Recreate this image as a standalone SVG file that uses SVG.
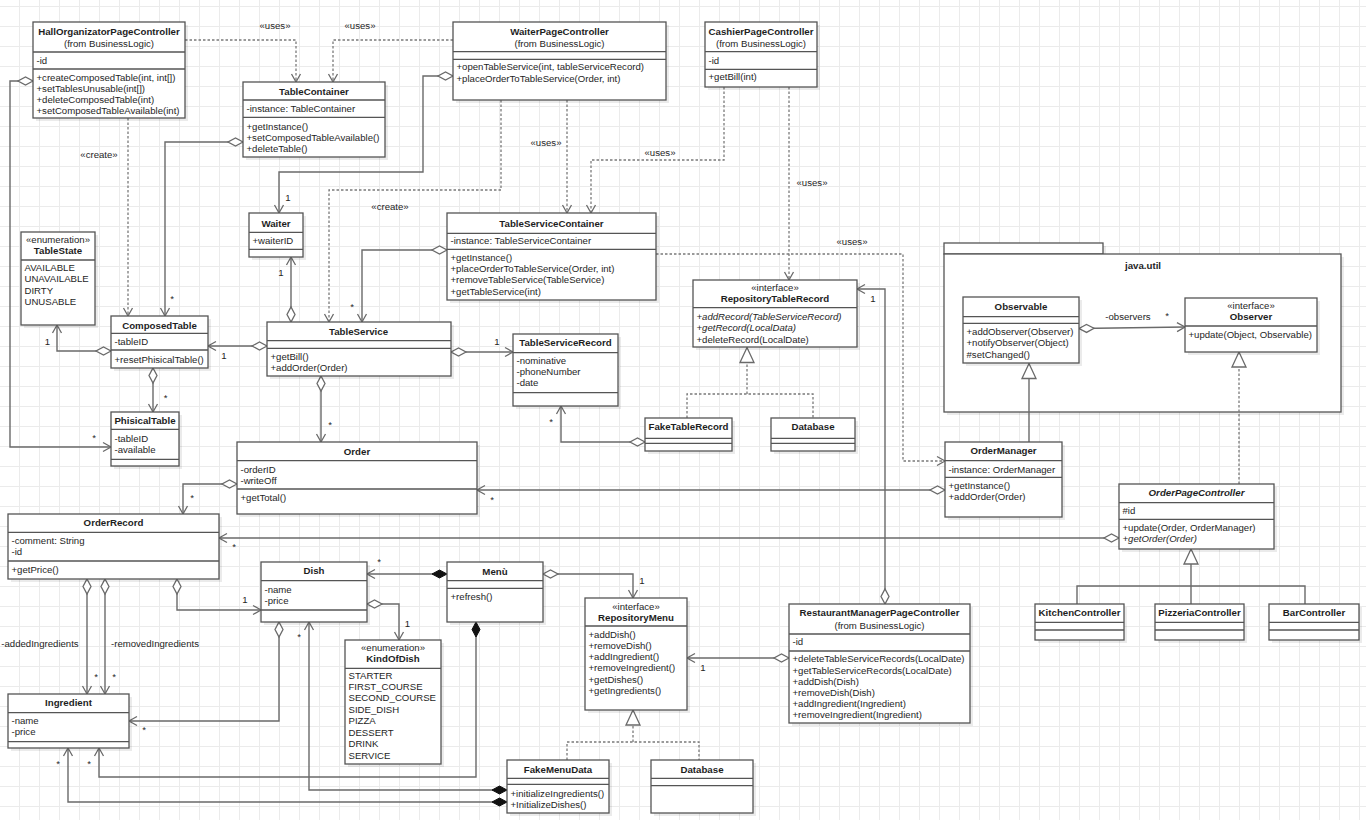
<svg xmlns="http://www.w3.org/2000/svg" width="1366" height="820" viewBox="0 0 1366 820">
<defs>
<style>
.bx{fill:#fff;stroke:#555;stroke-width:1.3}
.sh{fill:#000;fill-opacity:.08}
.sp{stroke:#555;stroke-width:1.3}
text{font-family:"Liberation Sans",Arial,sans-serif;font-size:9.6px;fill:#1e1e1e}
.b{font-weight:bold;font-size:9.7px}
.c{text-anchor:middle}
.i{font-style:italic}
.ln{fill:none;stroke:#6a6a6a;stroke-width:1.4}
.ds{fill:none;stroke:#7a7a7a;stroke-width:1.3;stroke-dasharray:2.5 2}
.ar{marker-end:url(#ar)}
.dm{marker-start:url(#dm)}
.fd{marker-start:url(#fd)}
.tr{marker-end:url(#tr)}
</style>
<pattern id="grid" width="20" height="20" patternUnits="userSpaceOnUse"><path d="M19.5,0 V20 M0,6.5 H20" stroke="#ebebeb" stroke-width="1" fill="none"/></pattern>
<marker id="ar" markerUnits="userSpaceOnUse" markerWidth="12" markerHeight="12" viewBox="-10 -6 12 12" refX="0" refY="0" orient="auto" overflow="visible"><path d="M-8,-4.5 L0,0 L-8,4.5" fill="none" stroke="#6a6a6a" stroke-width="1.3"/></marker>
<marker id="dm" markerUnits="userSpaceOnUse" markerWidth="17" markerHeight="10" viewBox="-1 -5 17 10" refX="0" refY="0" orient="auto" overflow="visible"><path d="M0,0 L7.5,-4 L15,0 L7.5,4 z" fill="#fff" stroke="#6a6a6a" stroke-width="1.3"/></marker>
<marker id="fd" markerUnits="userSpaceOnUse" markerWidth="17" markerHeight="10" viewBox="-1 -5 17 10" refX="0" refY="0" orient="auto" overflow="visible"><path d="M0,0 L7.5,-4 L15,0 L7.5,4 z" fill="#111" stroke="#111" stroke-width="1"/></marker>
<marker id="tr" markerUnits="userSpaceOnUse" markerWidth="17" markerHeight="16" viewBox="-16 -8 17 16" refX="0" refY="0" orient="auto" overflow="visible"><path d="M-15,-7 L0,0 L-15,7 z" fill="#fff" stroke="#6a6a6a" stroke-width="1.3"/></marker>
</defs>
<rect width="1366" height="820" fill="#fff"/>
<rect width="1366" height="820" fill="url(#grid)"/>

<g id="java.util">
<rect class="sh" x="947" y="246" width="159" height="11"/>
<rect class="sh" x="947" y="257" width="397" height="158"/>
<rect class="bx" x="944" y="243" width="159" height="11"/>
<rect class="bx" x="944" y="254" width="397" height="158"/>
<text class="b c" x="1143" y="268.5">java.util</text>
</g>

<g id="connectors">
<path class="ds ar" d="M185,40 H296 V82"/>
<path class="ds ar" d="M453,40 H333 V82"/>
<path class="ds ar" d="M128,118 V316"/>
<path class="ln dm ar" d="M33,81 H10 V447 H111"/>
<path class="ln dm ar" d="M243,142 H165 V316"/>
<path class="ln dm ar" d="M453,76 H423 V172 H279 V213"/>
<path class="ln dm ar" d="M291,322 V257"/>
<path class="ds ar" d="M501,100 V190 H329 V322"/>
<path class="ds ar" d="M567,100 V213"/>
<path class="ds ar" d="M724,87 V160 H591 V213"/>
<path class="ds ar" d="M789,87 V280"/>
<path class="ds ar" d="M656,254 H903 V461 H945"/>
<path class="ln dm ar" d="M447,250 H362 V322"/>
<path class="ln dm ar" d="M267,346 H208"/>
<path class="ln dm ar" d="M111,351 H57 V325"/>
<path class="ln dm ar" d="M153,368 V412"/>
<path class="ln dm ar" d="M451,352 H513"/>
<path class="ln dm ar" d="M321,376 V442"/>
<path class="ln dm ar" d="M645,442 H561 V406"/>
<path class="ds" d="M687,418 V394 H813 V418"/>
<path class="ds tr" d="M747,394 V347.5"/>
<path class="ln dm ar" d="M885,604 V289 H857"/>
<path class="ln dm ar" d="M1079,328.5 L1185,327"/>
<path class="ln tr" d="M1029,442 V363.5"/>
<path class="ds tr" d="M1239,484 V352"/>
<path class="ln dm ar" d="M945,490 H477"/>
<path class="ln dm ar" d="M1119,538 H219"/>
<path class="ln dm ar" d="M237,484 H183 V514"/>
<path class="ln dm ar" d="M87,579 V694"/>
<path class="ln dm ar" d="M105,579 V694"/>
<path class="ln dm ar" d="M177,579 V610 H261"/>
<path class="ln dm ar" d="M279,622 V721 H129"/>
<path class="ln dm ar" d="M367,604 H399 V640"/>
<path class="ln fd ar" d="M447,574 H367"/>
<path class="ln dm ar" d="M543,574 H633 V598"/>
<path class="ln fd ar" d="M476,622 V777 H99 V748"/>
<path class="ln fd ar" d="M507,790 H309 V622"/>
<path class="ln fd ar" d="M507,802 H68 V748"/>
<path class="ds" d="M567,760 V742 H699 V760"/>
<path class="ds tr" d="M633,742 V710"/>
<path class="ln dm ar" d="M789,658 H687"/>
<path class="ln" d="M1077,604 V586 H1305 V604"/>
<path class="ln tr" d="M1191,604 V549"/>
<text class="c" x="275" y="28.5">«uses»</text>
<text class="c" x="360" y="28.5">«uses»</text>
<text class="c" x="546" y="145.5">«uses»</text>
<text class="c" x="660" y="156">«uses»</text>
<text class="c" x="812" y="186">«uses»</text>
<text class="c" x="852" y="244.5">«uses»</text>
<text class="c" x="99" y="157.5">«create»</text>
<text class="c" x="390" y="209.5">«create»</text>
<text class="c" x="94" y="441">*</text>
<text class="c" x="172" y="302">*</text>
<text class="c" x="288" y="200.5">1</text>
<text class="c" x="281" y="275.5">1</text>
<text class="c" x="352" y="310">*</text>
<text class="c" x="224" y="358.5">1</text>
<text class="c" x="47.5" y="344.5">1</text>
<text class="c" x="165.5" y="401">*</text>
<text class="c" x="497" y="344.5">1</text>
<text class="c" x="330" y="428">*</text>
<text class="c" x="551" y="425">*</text>
<text class="c" x="873" y="301.5">1</text>
<text class="c" x="1128" y="319.5">-observers</text>
<text class="c" x="1167" y="319">*</text>
<text class="c" x="492" y="503">*</text>
<text class="c" x="234" y="550">*</text>
<text class="c" x="192" y="501">*</text>
<text class="c" x="40" y="647">-addedIngredients</text>
<text class="c" x="96" y="680">*</text>
<text class="c" x="155" y="647">-removedIngredients</text>
<text class="c" x="114" y="680">*</text>
<text class="c" x="245" y="603">1</text>
<text class="c" x="144" y="733">*</text>
<text class="c" x="407.5" y="626.5">1</text>
<text class="c" x="379" y="565">*</text>
<text class="c" x="642" y="583.5">1</text>
<text class="c" x="89" y="767">*</text>
<text class="c" x="299" y="640">*</text>
<text class="c" x="58" y="767">*</text>
<text class="c" x="703" y="670.5">1</text>
</g>

<g id="HallOrganizatorPageController">
<rect class="sh" x="36" y="25" width="152" height="96"/>
<rect class="bx" x="33" y="22" width="152" height="96"/>
<path class="sp" d="M33,52 H185 M33,69 H185"/>
<text class="b c" x="109" y="34.5">HallOrganizatorPageController</text>
<text class="c" x="109" y="46.5">(from BusinessLogic)</text>
<text x="36.5" y="63.5">-id</text>
<text x="36.5" y="80.8">+createComposedTable(int, int[])</text>
<text x="36.5" y="91.8">+setTablesUnusable(int[])</text>
<text x="36.5" y="102.8">+deleteComposedTable(int)</text>
<text x="36.5" y="114.2">+setComposedTableAvailable(int)</text>
</g>

<g id="TableContainer">
<rect class="sh" x="246" y="85" width="142" height="75"/>
<rect class="bx" x="243" y="82" width="142" height="75"/>
<path class="sp" d="M243,100 H385 M243,117.3 H385"/>
<text class="b c" x="314" y="94.5">TableContainer</text>
<text x="246.5" y="111.5">-instance: TableContainer</text>
<text x="246.5" y="130.2">+getInstance()</text>
<text x="246.5" y="141.2">+setComposedTableAvailable()</text>
<text x="246.5" y="151.8">+deleteTable()</text>
</g>

<g id="WaiterPageController">
<rect class="sh" x="456" y="25" width="213" height="78"/>
<rect class="bx" x="453" y="22" width="213" height="78"/>
<path class="sp" d="M453,51.7 H666 M453,59.3 H666"/>
<text class="b c" x="559.5" y="34.5">WaiterPageController</text>
<text class="c" x="559.5" y="46.5">(from BusinessLogic)</text>
<text x="456.5" y="70.2">+openTableService(int, tableServiceRecord)</text>
<text x="456.5" y="81.8">+placeOrderToTableService(Order, int)</text>
</g>

<g id="CashierPageController">
<rect class="sh" x="708" y="25" width="112" height="65"/>
<rect class="bx" x="705" y="22" width="112" height="65"/>
<path class="sp" d="M705,51.7 H817 M705,69.3 H817"/>
<text class="b c" x="761" y="34.5">CashierPageController</text>
<text class="c" x="761" y="46.5">(from BusinessLogic)</text>
<text x="708.5" y="63.5">-id</text>
<text x="708.5" y="80.2">+getBill(int)</text>
</g>

<g id="Waiter">
<rect class="sh" x="252" y="216" width="54" height="44"/>
<rect class="bx" x="249" y="213" width="54" height="44"/>
<path class="sp" d="M249,232.3 H303 M249,249.3 H303"/>
<text class="b c" x="276" y="226.5">Waiter</text>
<text x="252.5" y="243.5">+waiterID</text>
</g>

<g id="TableState">
<rect class="sh" x="24" y="235" width="74" height="93"/>
<rect class="bx" x="21" y="232" width="74" height="93"/>
<path class="sp" d="M21,260 H95"/>
<text class="c" x="58" y="242.8">«enumeration»</text>
<text class="b c" x="58" y="253.5">TableState</text>
<text x="24.5" y="271">AVAILABLE</text>
<text x="24.5" y="282.3">UNAVAILABLE</text>
<text x="24.5" y="293.6">DIRTY</text>
<text x="24.5" y="304.9">UNUSABLE</text>
</g>

<g id="ComposedTable">
<rect class="sh" x="114" y="319" width="97" height="52"/>
<rect class="bx" x="111" y="316" width="97" height="52"/>
<path class="sp" d="M111,333.3 H208 M111,350 H208"/>
<text class="b c" x="159.5" y="328.5">ComposedTable</text>
<text x="114.5" y="345">-tableID</text>
<text x="114.5" y="362.7">+resetPhisicalTable()</text>
</g>

<g id="PhisicalTable">
<rect class="sh" x="114" y="415" width="68" height="54"/>
<rect class="bx" x="111" y="412" width="68" height="54"/>
<path class="sp" d="M111,429.3 H179 M111,459.3 H179"/>
<text class="b c" x="145" y="424">PhisicalTable</text>
<text x="114.5" y="441.8">-tableID</text>
<text x="114.5" y="453.3">-available</text>
</g>

<g id="TableService">
<rect class="sh" x="270" y="325" width="184" height="54"/>
<rect class="bx" x="267" y="322" width="184" height="54"/>
<path class="sp" d="M267,340.7 H451 M267,348.3 H451"/>
<text class="b c" x="358.5" y="334.5">TableService</text>
<text x="270.5" y="359.5">+getBill()</text>
<text x="270.5" y="370.5">+addOrder(Order)</text>
</g>

<g id="TableServiceContainer">
<rect class="sh" x="450" y="216" width="209" height="87"/>
<rect class="bx" x="447" y="213" width="209" height="87"/>
<path class="sp" d="M447,233.3 H656 M447,249.3 H656"/>
<text class="b c" x="551.5" y="226.5">TableServiceContainer</text>
<text x="450.5" y="243.5">-instance: TableServiceContainer</text>
<text x="450.5" y="260.8">+getInstance()</text>
<text x="450.5" y="272">+placeOrderToTableService(Order, int)</text>
<text x="450.5" y="283.4">+removeTableService(TableService)</text>
<text x="450.5" y="294.8">+getTableService(int)</text>
</g>

<g id="TableServiceRecord">
<rect class="sh" x="516" y="337" width="105" height="72"/>
<rect class="bx" x="513" y="334" width="105" height="72"/>
<path class="sp" d="M513,352.7 H618 M513,392.7 H618"/>
<text class="b c" x="565.5" y="346.3">TableServiceRecord</text>
<text x="516.5" y="364.2">-nominative</text>
<text x="516.5" y="375.2">-phoneNumber</text>
<text x="516.5" y="386.2">-date</text>
</g>

<g id="RepositoryTableRecord">
<rect class="sh" x="696" y="283" width="164" height="67"/>
<rect class="bx" x="693" y="280" width="164" height="67"/>
<path class="sp" d="M693,307.7 H857"/>
<text class="c" x="775" y="290.8">«interface»</text>
<text class="b c" x="775" y="302.2">RepositoryTableRecord</text>
<text class="i" x="696.5" y="319.5">+addRecord(TableServiceRecord)</text>
<text class="i" x="696.5" y="331.2">+getRecord(LocalData)</text>
<text x="696.5" y="342.5">+deleteRecord(LocalDate)</text>
</g>

<g id="FakeTableRecord">
<rect class="sh" x="648" y="421" width="87" height="33"/>
<rect class="bx" x="645" y="418" width="87" height="33"/>
<path class="sp" d="M645,438.3 H732 M645,443.3 H732"/>
<text class="b c" x="688.5" y="430.3">FakeTableRecord</text>
</g>

<g id="DatabaseTableRecord">
<rect class="sh" x="774" y="421" width="84" height="33"/>
<rect class="bx" x="771" y="418" width="84" height="33"/>
<path class="sp" d="M771,438.3 H855 M771,443.3 H855"/>
<text class="b c" x="813" y="430.3">Database</text>
</g>

<g id="Observable">
<rect class="sh" x="966" y="300" width="116" height="66"/>
<rect class="bx" x="963" y="297" width="116" height="66"/>
<path class="sp" d="M963,316.7 H1079 M963,323.3 H1079"/>
<text class="b c" x="1021" y="310.2">Observable</text>
<text x="966.5" y="335.2">+addObserver(Observer)</text>
<text x="966.5" y="346.2">+notifyObserver(Object)</text>
<text x="966.5" y="357.5">#setChanged()</text>
</g>

<g id="Observer">
<rect class="sh" x="1188" y="301" width="132" height="54"/>
<rect class="bx" x="1185" y="298" width="132" height="54"/>
<path class="sp" d="M1185,326 H1317"/>
<text class="c" x="1251" y="308.5">«interface»</text>
<text class="b c" x="1251" y="320.2">Observer</text>
<text x="1188.5" y="337.5">+update(Object, Observable)</text>
</g>

<g id="OrderManager">
<rect class="sh" x="948" y="445" width="117" height="75"/>
<rect class="bx" x="945" y="442" width="117" height="75"/>
<path class="sp" d="M945,460.7 H1062 M945,477.3 H1062"/>
<text class="b c" x="1003.5" y="454.3">OrderManager</text>
<text x="948.5" y="472.5">-instance: OrderManager</text>
<text x="948.5" y="489.2">+getInstance()</text>
<text x="948.5" y="500">+addOrder(Order)</text>
</g>

<g id="OrderPageController">
<rect class="sh" x="1122" y="487" width="155" height="65"/>
<rect class="bx" x="1119" y="484" width="155" height="65"/>
<path class="sp" d="M1119,502.7 H1274 M1119,519.3 H1274"/>
<text class="b c i" x="1196.5" y="496.2">OrderPageController</text>
<text x="1122.5" y="514.2">#id</text>
<text x="1122.5" y="530.8">+update(Order, OrderManager)</text>
<text class="i" x="1122.5" y="541.8">+getOrder(Order)</text>
</g>

<g id="KitchenController">
<rect class="sh" x="1038" y="607" width="89" height="36"/>
<rect class="bx" x="1035" y="604" width="89" height="36"/>
<path class="sp" d="M1035,622.3 H1124 M1035,630 H1124"/>
<text class="b c" x="1079.5" y="616">KitchenController</text>
</g>

<g id="PizzeriaController">
<rect class="sh" x="1158" y="607" width="89" height="36"/>
<rect class="bx" x="1155" y="604" width="89" height="36"/>
<path class="sp" d="M1155,622.3 H1244 M1155,630 H1244"/>
<text class="b c" x="1199.5" y="616">PizzeriaController</text>
</g>

<g id="BarController">
<rect class="sh" x="1272" y="607" width="90" height="36"/>
<rect class="bx" x="1269" y="604" width="90" height="36"/>
<path class="sp" d="M1269,622.3 H1359 M1269,630 H1359"/>
<text class="b c" x="1314" y="616">BarController</text>
</g>

<g id="Order">
<rect class="sh" x="240" y="445" width="240" height="72"/>
<rect class="bx" x="237" y="442" width="240" height="72"/>
<path class="sp" d="M237,460.7 H477 M237,489 H477"/>
<text class="b c" x="357" y="454.5">Order</text>
<text x="240.5" y="472.5">-orderID</text>
<text x="240.5" y="483.5">-writeOff</text>
<text x="240.5" y="500.8">+getTotal()</text>
</g>

<g id="OrderRecord">
<rect class="sh" x="11" y="517" width="211" height="65"/>
<rect class="bx" x="8" y="514" width="211" height="65"/>
<path class="sp" d="M8,532.3 H219 M8,561 H219"/>
<text class="b c" x="113.5" y="526">OrderRecord</text>
<text x="11.5" y="544.2">-comment: String</text>
<text x="11.5" y="555.2">-id</text>
<text x="11.5" y="572.5">+getPrice()</text>
</g>

<g id="Dish">
<rect class="sh" x="264" y="565" width="106" height="60"/>
<rect class="bx" x="261" y="562" width="106" height="60"/>
<path class="sp" d="M261,580.7 H367 M261,610 H367"/>
<text class="b c" x="314" y="574.3">Dish</text>
<text x="264.5" y="592.5">-name</text>
<text x="264.5" y="603.5">-price</text>
</g>

<g id="Ingredient">
<rect class="sh" x="11" y="697" width="121" height="54"/>
<rect class="bx" x="8" y="694" width="121" height="54"/>
<path class="sp" d="M8,712.7 H129 M8,741.7 H129"/>
<text class="b c" x="68.5" y="706.3">Ingredient</text>
<text x="11.5" y="724.2">-name</text>
<text x="11.5" y="735.2">-price</text>
</g>

<g id="Menu">
<rect class="sh" x="450" y="565" width="96" height="60"/>
<rect class="bx" x="447" y="562" width="96" height="60"/>
<path class="sp" d="M447,580.7 H543 M447,588.3 H543"/>
<text class="b c" x="495" y="575">Menù</text>
<text x="450.5" y="600.2">+refresh()</text>
</g>

<g id="KindOfDish">
<rect class="sh" x="348" y="643" width="96" height="124"/>
<rect class="bx" x="345" y="640" width="96" height="124"/>
<path class="sp" d="M345,668.3 H441"/>
<text class="c" x="393" y="650.8">«enumeration»</text>
<text class="b c" x="393" y="662.2">KindOfDish</text>
<text x="348.5" y="678.5">STARTER</text>
<text x="348.5" y="689.9">FIRST_COURSE</text>
<text x="348.5" y="701.4">SECOND_COURSE</text>
<text x="348.5" y="712.8">SIDE_DISH</text>
<text x="348.5" y="724.2">PIZZA</text>
<text x="348.5" y="735.6">DESSERT</text>
<text x="348.5" y="747.1">DRINK</text>
<text x="348.5" y="758.5">SERVICE</text>
</g>

<g id="RepositoryMenu">
<rect class="sh" x="588" y="601" width="102" height="112"/>
<rect class="bx" x="585" y="598" width="102" height="112"/>
<path class="sp" d="M585,626 H687"/>
<text class="c" x="636" y="609.5">«interface»</text>
<text class="b c" x="636" y="620.8">RepositoryMenu</text>
<text x="588.5" y="637.8">+addDish()</text>
<text x="588.5" y="648.9">+removeDish()</text>
<text x="588.5" y="660.2">+addIngredient()</text>
<text x="588.5" y="671.3">+removeIngredient()</text>
<text x="588.5" y="682.6">+getDishes()</text>
<text x="588.5" y="694">+getIngredients()</text>
</g>

<g id="FakeMenuData">
<rect class="sh" x="510" y="763" width="102" height="53"/>
<rect class="bx" x="507" y="760" width="102" height="53"/>
<path class="sp" d="M507,778.3 H609 M507,784.3 H609"/>
<text class="b c" x="558" y="772.5">FakeMenuData</text>
<text x="510.5" y="796.8">+initializeIngredients()</text>
<text x="510.5" y="807.8">+InitializeDishes()</text>
</g>

<g id="DatabaseMenu">
<rect class="sh" x="654" y="763" width="102" height="53"/>
<rect class="bx" x="651" y="760" width="102" height="53"/>
<path class="sp" d="M651,778.3 H753 M651,785.7 H753"/>
<text class="b c" x="702" y="772.5">Database</text>
</g>

<g id="RestaurantManagerPageController">
<rect class="sh" x="792" y="607" width="181" height="119"/>
<rect class="bx" x="789" y="604" width="181" height="119"/>
<path class="sp" d="M789,634 H970 M789,651 H970"/>
<text class="b c" x="879.5" y="616.2">RestaurantManagerPageController</text>
<text class="c" x="879.5" y="628.5">(from BusinessLogic)</text>
<text x="792.5" y="645.2">-id</text>
<text x="792.5" y="662.2">+deleteTableServiceRecords(LocalDate)</text>
<text x="792.5" y="673.5">+getTableServiceRecords(LocalDate)</text>
<text x="792.5" y="685.2">+addDish(Dish)</text>
<text x="792.5" y="695.8">+removeDish(Dish)</text>
<text x="792.5" y="707.2">+addIngredient(Ingredient)</text>
<text x="792.5" y="718.2">+removeIngredient(Ingredient)</text>
</g>
</svg>
